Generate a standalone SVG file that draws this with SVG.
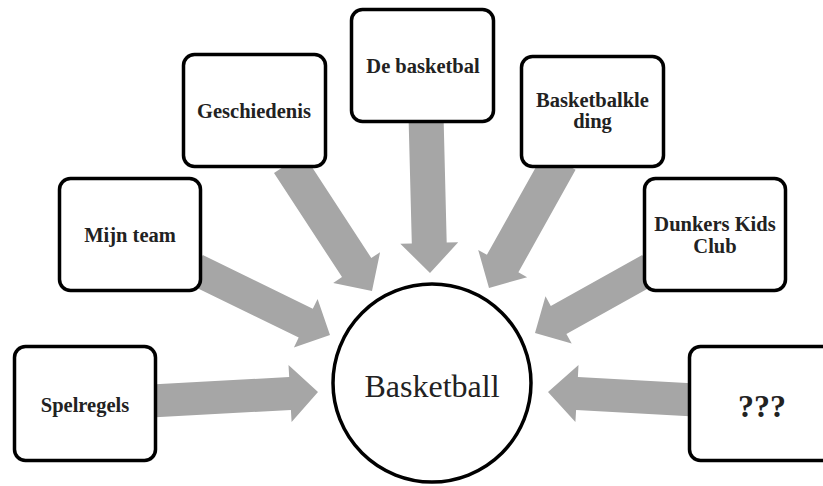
<svg xmlns="http://www.w3.org/2000/svg" width="823" height="486" viewBox="0 0 823 486">
<style>
.box{fill:#fff;stroke:#000;stroke-width:3.5}
.arrow{fill:#a6a6a6;stroke:none}
.lbl{font-family:"Liberation Serif","Times New Roman",serif;font-weight:bold;font-size:20.5px;fill:#222;text-anchor:middle}
.big{font-family:"Liberation Serif","Times New Roman",serif;font-size:32px;fill:#222;text-anchor:middle}
</style>
<rect width="823" height="486" fill="#fff"/>
<g id="connectors">
<path class="arrow" d="M150.9,384.5 L289.2,377.0 L288.5,365.0 L318,392 L291.6,422.0 L290.9,410.0 L150.9,417.5 Z"/>
<path class="arrow" d="M695.9,383.5 L577.9,377.1 L578.5,365.1 L548,392 L575.4,422.0 L576.1,410.1 L694.1,416.5 Z"/>
<path class="arrow" d="M202.8,255.1 L312.8,308.8 L317.6,298.9 L330,335 L293.9,347.4 L298.7,337.5 L188.8,283.9 Z"/>
<path class="arrow" d="M303.3,153.7 L371.3,258.0 L380.1,252.2 L372,291 L333.2,282.9 L342.0,277.1 L274.0,172.9 Z"/>
<path class="arrow" d="M443.5,114.6 L446.7,242.6 L458.2,242.3 L430,273 L400.3,243.7 L411.8,243.5 L408.5,115.4 Z"/>
<path class="arrow" d="M544.2,152.2 L486.9,254.8 L478.2,249.9 L489,288 L527.1,277.2 L518.4,272.3 L575.6,169.8 Z"/>
<path class="arrow" d="M642.2,255.1 L550.8,305.9 L545.5,296.3 L535,333 L571.7,343.5 L566.4,333.9 L657.8,283.1 Z"/>
</g>
<g id="center">
<circle cx="432" cy="383" r="99" fill="#fff" stroke="#000" stroke-width="3.5"/>
<text class="big" x="432" y="397">Basketball</text>
</g>
<g id="spelregels">
<rect class="box" x="14.5" y="346.5" width="141" height="114" rx="11"/>
<text class="lbl" x="85" y="412">Spelregels</text>
</g>
<g id="mijnteam">
<rect class="box" x="59.5" y="178.5" width="141" height="112" rx="11"/>
<text class="lbl" x="130" y="242">Mijn team</text>
</g>
<g id="geschiedenis">
<rect class="box" x="183.5" y="54.5" width="142" height="112" rx="11"/>
<text class="lbl" x="254" y="118">Geschiedenis</text>
</g>
<g id="debasketbal">
<rect class="box" x="351.5" y="9.5" width="142" height="112" rx="11"/>
<text class="lbl" x="423" y="73">De basketbal</text>
</g>
<g id="kleding">
<rect class="box" x="521.5" y="56.5" width="142" height="110" rx="11"/>
<text class="lbl" x="592.5" y="106.5">Basketbalkle</text>
<text class="lbl" x="592.5" y="128">ding</text>
</g>
<g id="dunkers">
<rect class="box" x="644.5" y="178.5" width="141" height="112" rx="11"/>
<text class="lbl" x="715" y="231">Dunkers Kids</text>
<text class="lbl" x="715" y="252.5">Club</text>
</g>
<g id="unknown">
<rect class="box" x="689.5" y="346.5" width="150" height="114" rx="11"/>
<text class="lbl" x="762" y="417" style="font-size:32px">???</text>
</g>
</svg>
